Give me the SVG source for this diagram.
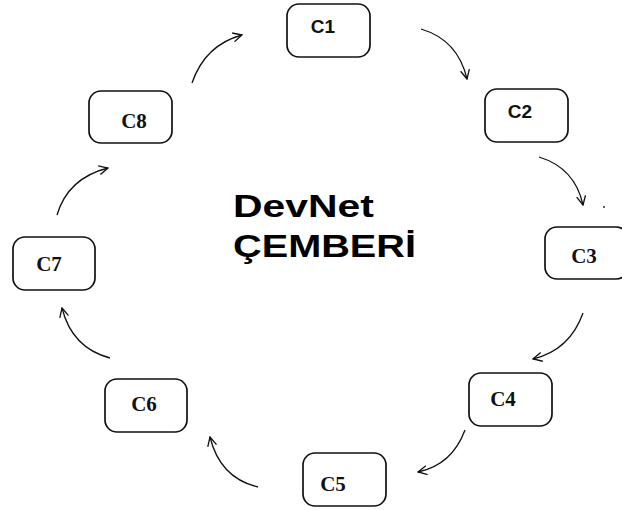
<svg xmlns="http://www.w3.org/2000/svg" width="622" height="510" viewBox="0 0 622 510">
<defs>
<style>
.box{fill:#fff;stroke:#111;stroke-width:1.7}
.sans{font-family:"Liberation Sans",Arial,sans-serif;font-weight:bold;font-size:19px;fill:#111;text-anchor:middle}
.serif{font-family:"Liberation Serif","Times New Roman",serif;font-weight:bold;font-size:21px;fill:#111;text-anchor:middle}
.title{font-family:"Liberation Sans",Arial,sans-serif;font-weight:bold;font-size:32px;fill:#000}
.arr{fill:none;stroke:#111;stroke-width:1.3;marker-end:url(#ah)}
</style>
<marker id="ah" viewBox="0 0 10 10" refX="9" refY="5" markerWidth="10" markerHeight="10" markerUnits="userSpaceOnUse" orient="auto">
<path d="M0,0.5 L9,5 L0,9.5" fill="none" stroke="#111" stroke-width="1.3"/>
</marker>
</defs>
<rect width="622" height="510" fill="#fff"/>
<g id="connectors">
<path class="arr" d="M192,83 Q205,45 242,35"/>
<path class="arr" d="M421,29 Q458,40 467,79"/>
<path class="arr" d="M539,157 Q575,168 583,205"/>
<path class="arr" d="M583,313 Q570,350 533,359"/>
<path class="arr" d="M465,430 Q452,465 418,472"/>
<path class="arr" d="M258,487 Q220,478 210,437"/>
<path class="arr" d="M110,358 Q72,348 62,308"/>
<path class="arr" d="M57,215 Q68,178 108,168"/>
<circle cx="604" cy="207" r="0.9" fill="#111"/>
</g>
<g id="C1"><rect class="box" x="287" y="4" width="83" height="53" rx="12"/><text class="sans" x="323" y="33">C1</text></g>
<g id="C2"><rect class="box" x="485" y="89" width="83" height="53" rx="12"/><text class="sans" x="520" y="118">C2</text></g>
<g id="C3"><rect class="box" x="545" y="227" width="83" height="52" rx="12"/><text class="serif" x="584" y="263">C3</text></g>
<g id="C4"><rect class="box" x="469" y="373" width="83" height="53" rx="12"/><text class="serif" x="503" y="406">C4</text></g>
<g id="C5"><rect class="box" x="303" y="453" width="83" height="53" rx="12"/><text class="serif" x="333" y="491">C5</text></g>
<g id="C6"><rect class="box" x="105" y="379" width="82" height="53" rx="12"/><text class="serif" x="144" y="411">C6</text></g>
<g id="C7"><rect class="box" x="13" y="237" width="82" height="53" rx="12"/><text class="serif" x="49" y="271">C7</text></g>
<g id="C8"><rect class="box" x="89" y="91" width="83" height="52" rx="12"/><text class="serif" x="134" y="128">C8</text></g>
<g id="title">
<text class="title" x="233" y="217" textLength="141" lengthAdjust="spacingAndGlyphs">DevNet</text>
<text class="title" x="233" y="257" textLength="183" lengthAdjust="spacingAndGlyphs">ÇEMBERİ</text>
</g>
</svg>
